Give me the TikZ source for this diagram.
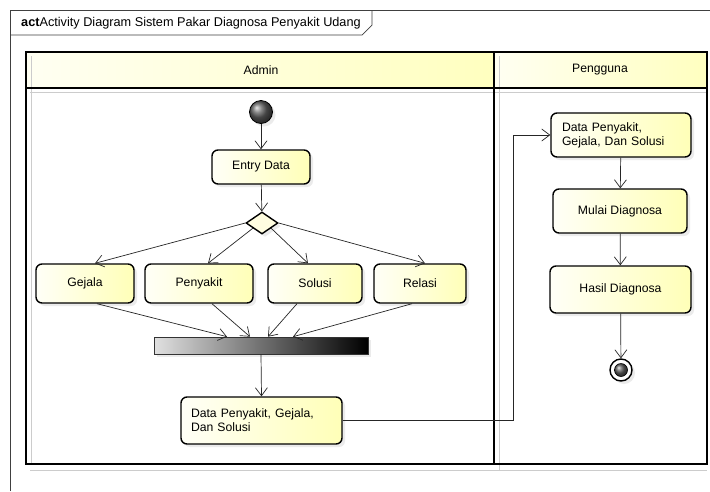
\documentclass[tikz,border=0pt]{standalone}
\usepackage{fontspec}
\setmainfont{Liberation Sans}
\usetikzlibrary{arrows.meta,shapes.geometric,shadows,calc}
\begin{document}
\begin{tikzpicture}[x=1pt,y=-1pt,font=\fontsize{12.2}{14.2}\selectfont,
  shad/.style={drop shadow={shadow xshift=3pt,shadow yshift=-3pt,fill=black!15}},
  act/.style={draw=black,line width=1.4pt,rounded corners=6pt,left color=yellow!3!white,right color=yellow!28!white,shad,inner sep=0pt},
  lanehead/.style={left color=yellow!5!white,right color=yellow!25!white},
  flow/.style={draw=black!85,line width=0.7pt,-{Straight Barb[length=8pt,width=12pt]}},
  lane/.style={draw=black,line width=1.6pt},
  lshadow/.style={draw=black!20,line width=1pt}]
\useasboundingbox (0,0) rectangle (710,491);
\fill[white] (0,0) rectangle (710,491);
% frame
\draw[black!75,line width=0.7pt] (10,491) -- (10,10) -- (710,10);
\draw[black!75,line width=0.7pt] (10,35) -- (362,35) -- (372,25) -- (372,10);
\node[anchor=west,inner sep=0pt,font=\fontsize{12.7}{14.7}\selectfont] (title) at (21,23) {\textbf{act}Activity Diagram Sistem Pakar Diagnosa Penyakit Udang};
% lanes
\shade[lanehead] (26,52) rectangle (494,88);
\shade[lanehead] (494,52) rectangle (707,88);
\draw[lshadow] (31,56) -- (31,465);
\draw[lshadow] (499,56) -- (499,470);
\draw[lshadow] (30,92) -- (707,92);
\draw[lshadow] (30,470) -- (707,470);
\draw[lane] (26,52) rectangle (707,464);
\draw[lane] (26,88) -- (707,88);
\draw[lane] (494,52) -- (494,464);
\node (admin) at (261,70) {Admin};
\node (pengguna) at (600,70) {Pengguna};
% Admin lane
\node[circle,draw=black,line width=0.8pt,minimum size=23pt,inner sep=0pt,ball color=gray!75!black,shad] (init) at (261,112) {};
\node[act,minimum width=98pt,minimum height=34pt] (entry) at (261,167) {Entry Data};
\node[diamond,draw=black,line width=1.4pt,fill=yellow!12!white,minimum width=32pt,minimum height=22pt,inner sep=0pt,aspect=1.45,shad] (dec) at (262,223) {};
\node[act,minimum width=98pt,minimum height=39pt] (gej) at (85,283.5) {Gejala};
\node[act,minimum width=108pt,minimum height=39pt] (pen) at (199,283.5) {Penyakit};
\node[act,minimum width=94pt,minimum height=39pt] (sol) at (315,283.5) {Solusi};
\node[act,minimum width=92pt,minimum height=39pt] (rel) at (420,283.5) {Relasi};
\node[draw=black!80,line width=0.6pt,left color=black!12,right color=black,minimum width=214pt,minimum height=17pt,inner sep=0pt,shad] (bar) at (261,345.5) {};
\node[act,text width=141pt,align=left,inner xsep=10pt,minimum height=47pt] (dat1) at (261.5,420.5) {Data Penyakit, Gejala,\\Dan Solusi};
% Pengguna lane
\node[act,text width=118pt,align=left,inner xsep=11pt,minimum height=44pt] (dat2) at (621,135) {Data Penyakit,\\Gejala, Dan Solusi};
\node[act,minimum width=134pt,minimum height=44pt] (mulai) at (620,211) {Mulai Diagnosa};
\node[act,minimum width=141pt,minimum height=47pt] (hasil) at (620.5,289.5) {Hasil Diagnosa};
\node[circle,draw=black,line width=1.4pt,fill=white,minimum size=22pt,inner sep=0pt,shad] (final) at (621,370) {};
\node[circle,draw=black,line width=0.6pt,minimum size=13pt,inner sep=0pt,ball color=gray!75!black] (finalin) at (final) {};
% flows
\draw[flow] (init) -- (entry);
\draw[flow] (entry) -- (dec);
\draw[flow] (dec.west) -- ($(gej.north)+(10,0)$);
\draw[flow] ($(dec.west)!0.45!(dec.south)$) -- ($(pen.north)+(9,0)$);
\draw[flow] ($(dec.east)!0.45!(dec.south)$) -- ($(sol.north)+(-7,0)$);
\draw[flow] (dec.east) -- ($(rel.north)+(5,0)$);
\draw[flow] ($(gej.south)+(12,0)$) -- ($(bar.north)+(-34,0)$);
\draw[flow] ($(pen.south)+(13,0)$) -- ($(bar.north)+(-11,0)$);
\draw[flow] ($(sol.south)+(-18,0)$) -- ($(bar.north)+(7,0)$);
\draw[flow] ($(rel.south)+(-8,0)$) -- ($(bar.north)+(32,0)$);
\draw[flow] (bar.south) -- (dat1.north);
\coordinate (bend) at (513,420.5);
\draw[flow] (dat1.east) -- (bend) |- (dat2.west);
\draw[flow] (dat2) -- (mulai);
\draw[flow] (mulai) -- (hasil);
\draw[flow] (hasil) -- (final);
\end{tikzpicture}
\end{document}
